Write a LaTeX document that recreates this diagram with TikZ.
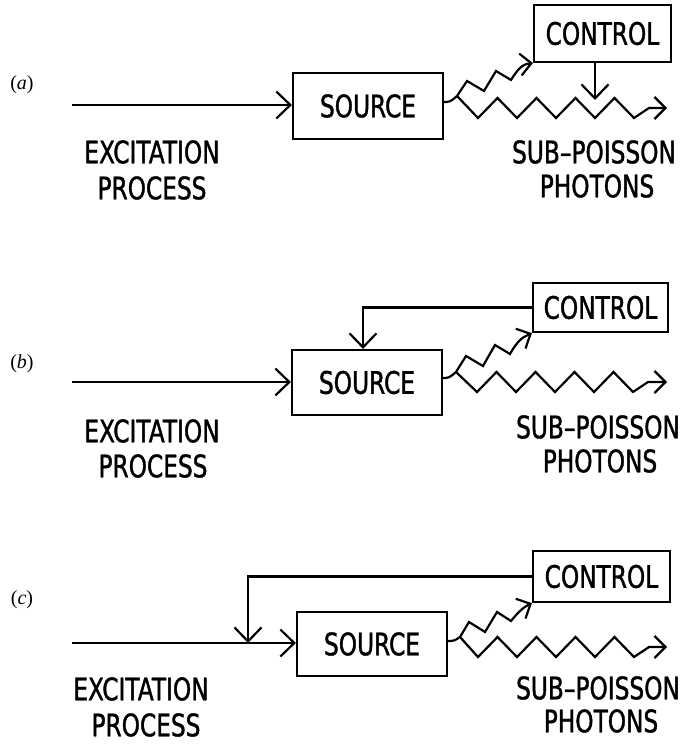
\documentclass[tikz,border=0pt]{standalone}
\usepackage{fontspec}
\newfontfamily\plotfont{DejaVu Sans}[FakeStretch=0.75,FakeBold=1.2]
\newfontfamily\capfont{Liberation Serif}
\usetikzlibrary{arrows.meta}
\begin{document}
\begin{tikzpicture}[x=1pt,y=-1pt,
  box/.style={draw, line width=2.2pt, inner sep=0pt, font=\plotfont\fontsize{31}{31}\selectfont},
  lbl/.style={font=\plotfont\fontsize{31}{31}\selectfont, inner sep=0pt},
  panel/.style={font=\capfont\fontsize{20}{22}\selectfont, inner sep=0pt},
  wire/.style={line width=2.2pt},
  barb/.style={-{Straight Barb[length=14pt,width=27pt]}},
  sbarb/.style={-{Straight Barb[length=11pt,width=22pt]}}]
\useasboundingbox (0,0) rectangle (691,746);

% ---------- panel (a)
\node[panel] (la) at (22,85) {(\textit{a})};
\node[box, minimum width=150pt, minimum height=66pt] (srcA) at (368,106) {SOURCE};
\node[box, minimum width=137pt, minimum height=57pt] (ctlA) at (602.5,33.5) {CONTROL};
\coordinate (exA) at (72,105);
\draw[wire,barb] (exA) -- (exA -| srcA.west);
\coordinate (oA) at (443,102);
\coordinate (sA) at (457,96);
\coordinate (tA) at (667,108);
\draw[wire] (oA) .. controls (450,102) .. (sA);
\draw[wire,sbarb] (sA) -- ++(21,22) -- ++(19.5,-20) -- ++(19.5,20) -- ++(19.5,-20) -- ++(19.5,20)
  -- ++(19.5,-20) -- ++(19.5,20) -- ++(19.5,-20) -- ++(19.5,20) -- ++(15,-10) -- (tA);
\draw[wire,sbarb] (sA) -- ++(10,-15) -- ++(17,10) -- ++(12,-20) -- ++(15,9)
  .. controls (520,65) and (525,64) .. (ctlA.south west);
\coordinate (dA) at (595,100);
\draw[wire,barb] (dA |- ctlA.south) -- (dA);
\node[lbl] (exa1) at (152,152) {EXCITATION};
\node[lbl] (exa2) at (152,188) {PROCESS};
\node[lbl] (spa1) at (594,152) {SUB–POISSON};
\node[lbl] (spa2) at (597,186) {PHOTONS};

% ---------- panel (b)
\node[panel] (lb) at (22,364) {(\textit{b})};
\node[box, minimum width=150pt, minimum height=65pt] (srcB) at (367,382.5) {SOURCE};
\node[box, minimum width=135pt, minimum height=49pt] (ctlB) at (600.5,307.5) {CONTROL};
\coordinate (exB) at (72,382);
\draw[wire,barb] (exB) -- (exB -| srcB.west);
\coordinate (oB) at (442,378);
\coordinate (sB) at (456,372);
\coordinate (tB) at (667,382);
\draw[wire] (oB) .. controls (449,378) .. (sB);
\draw[wire,sbarb] (sB) -- ++(21,20) -- ++(19.5,-20) -- ++(19.5,20) -- ++(19.5,-20) -- ++(19.5,20)
  -- ++(19.5,-20) -- ++(19.5,20) -- ++(19.5,-20) -- ++(19.5,20) -- ++(15,-10) -- (tB);
\draw[wire,sbarb] (sB) -- ++(10,-16) -- ++(17,10) -- ++(12,-21) -- ++(15,9)
  .. controls (519,338) and (524,337) .. (ctlB.south west);
\draw[wire,barb] (ctlB.west) -| ([xshift=-4pt]srcB.north);
\node[lbl] (exb1) at (152,431) {EXCITATION};
\node[lbl] (exb2) at (153,466) {PROCESS};
\node[lbl] (spb1) at (598,427) {SUB–POISSON};
\node[lbl] (spb2) at (600,461) {PHOTONS};

% ---------- panel (c)
\node[panel] (lc) at (22,600) {(\textit{c})};
\node[box, minimum width=150pt, minimum height=64pt] (srcC) at (372,644) {SOURCE};
\node[box, minimum width=137pt, minimum height=51pt] (ctlC) at (601.5,576.5) {CONTROL};
\coordinate (exC) at (72,643);
\coordinate (fC) at (248,643);
\draw[wire,barb] (exC) -- (exC -| srcC.west);
\draw[wire,barb] (ctlC.west) -| (fC);
\coordinate (oC) at (447,641);
\coordinate (sC) at (460,637);
\coordinate (tC) at (667,647);
\draw[wire] (oC) .. controls (454,641) .. (sC);
\draw[wire,sbarb] (sC) -- ++(18,20) -- ++(19.5,-20) -- ++(19.5,20) -- ++(19.5,-20) -- ++(19.5,20)
  -- ++(19.5,-20) -- ++(19.5,20) -- ++(19.5,-20) -- ++(19.5,20) -- ++(15,-10) -- (tC);
\draw[wire,sbarb] (sC) -- ++(9,-15) -- ++(16,10) -- ++(12,-20) -- ++(14,9)
  .. controls (519,611) and (524,607) .. (ctlC.south west);
\node[lbl] (exc1) at (141,689) {EXCITATION};
\node[lbl] (exc2) at (146,725) {PROCESS};
\node[lbl] (spc1) at (598,688) {SUB–POISSON};
\node[lbl] (spc2) at (601,721) {PHOTONS};
\end{tikzpicture}
\end{document}
